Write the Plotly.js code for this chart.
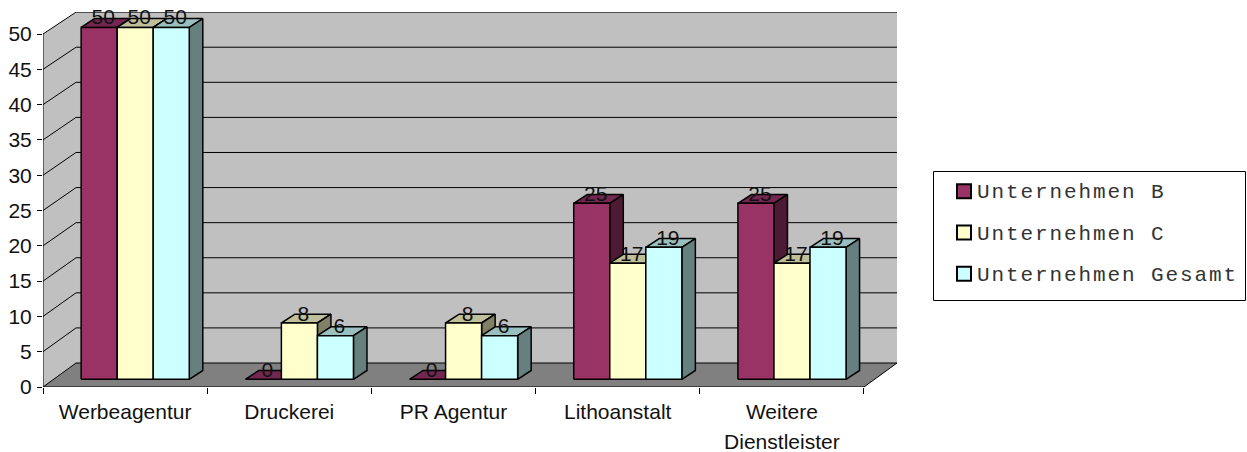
<!DOCTYPE html>
<html><head><meta charset="utf-8">
<script src="https://cdn.plot.ly/plotly-3.0.1.min.js"></script>
<style>
html,body{margin:0;padding:0;background:#fff}
.legendtext{letter-spacing:1.9px;transform:translate(-7px,-1px)}
</style></head><body><div id="chart" style="width:1247px;height:452px"></div>
<script>
const categories=['Werbeagentur','Druckerei','PR Agentur','Lithoanstalt','Weitere<br>Dienstleister'];
const seriesNames=['Unternehmen B','Unternehmen C','Unternehmen Gesamt'];
const unternehmenB=[50,0,0,25,25];
const unternehmenC=[50,8,8,16.5,16.5];
const unternehmenGesamt=[50,6.2,6.2,18.75,18.75];
const yTicks=[0,5,10,15,20,25,30,35,40,45,50];
const catPos=[0,1,2,3,4];
const catEdges=[-0.5,0.5,1.5,2.5,3.5,4.5];
const frontColors=['#993366','#FFFFCC','#CCFFFF'];
const topColors=['#732650','#BFBF99','#99BFBF'];
const sideColors=['#4D1933','#808066','#668080'];
const allSeries=[unternehmenB,unternehmenC,unternehmenGesamt];

const wallDx=33/164, backY=v=>v*0.994+3.4;
const barW=36/164, depthX=13.5/164, depthY=1.25, baseX=10.1/164, baseY=1.09;
const x0=-0.5,x1=4.5;
const traces=[];
function poly(xs,ys,fill,lineColor,lw){
  traces.push({type:'scatter',mode:lineColor?'lines':'none',x:xs.concat(xs[0]),y:ys.concat(ys[0]),
    fill:'toself',fillcolor:fill,line:{color:lineColor||fill,width:lw||0},showlegend:false,hoverinfo:'skip',cliponaxis:false});
}
function seg(xs,ys,w){
  traces.push({type:'scatter',mode:'lines',x:xs,y:ys,line:{color:'#000',width:w||1},showlegend:false,hoverinfo:'skip',cliponaxis:false});
}
poly([x0+wallDx,x1+wallDx,x1+wallDx,x0+wallDx],[backY(0),backY(0),backY(50),backY(50)],'#C0C0C0');
poly([x0,x0+wallDx,x0+wallDx,x0],[0,backY(0),backY(50),50],'#C0C0C0');
poly([x0,x1,x1+wallDx,x0+wallDx],[0,0,backY(0),backY(0)],'#808080');
yTicks.forEach(v=>{
  seg([x0,x0+wallDx,x1+wallDx],[v,backY(v),backY(v)]);
});
seg([x1,x1+wallDx],[0,backY(0)]);
seg([x0,x0],[0,50]);
seg([x0,x1],[0,0]);
catPos.forEach((c,i)=>{
  allSeries.forEach((s,j)=>{
    const l=c+baseX+(j-1.5)*barW, r=l+barW, b=baseY, t=baseY+s[i]*0.997;
    poly([l,r,r+depthX,l+depthX],[t,t,t+depthY,t+depthY],topColors[j],'#000',1.5);
    poly([r,r+depthX,r+depthX,r],[b,b+depthY,t+depthY,t],sideColors[j],'#000',1.5);
    if(s[i]>0) poly([l,r,r,l],[b,b,t,t],frontColors[j],'#000',1.5);
  });
});
allSeries.forEach((s,j)=>{
  traces.push({type:'scatter',mode:'text',x:catPos.map(c=>c+baseX+(j-1)*barW+4/164),
    y:s.map(v=>baseY+v+1.05),text:s.map(v=>String(Math.round(v))),
    textposition:'middle center',textfont:{family:'Liberation Sans',size:21,color:'#111'},
    showlegend:false,hoverinfo:'skip',cliponaxis:false});
});
seriesNames.forEach((n,j)=>{
  traces.push({type:'scatter',mode:'markers',x:[null],y:[null],name:n,legendgroup:n,
    marker:{symbol:'square',size:14,color:frontColors[j],line:{color:'#000',width:2}},hoverinfo:'skip'});
});
const layout={
  width:1247,height:452,paper_bgcolor:'#fff',plot_bgcolor:'rgba(0,0,0,0)',
  margin:{l:43,r:350,t:12,b:65,pad:0,autoexpand:false},
  font:{family:'Liberation Sans',size:20,color:'#111'},
  hovermode:false,
  xaxis:{type:'linear',range:[x0,x1+wallDx],tickmode:'array',tickvals:catPos,ticktext:categories,ticks:'',
    showgrid:false,zeroline:false,showline:false,tickfont:{size:21},ticklabelstandoff:10,tickangle:0,
    minor:{tickmode:'array',tickvals:catEdges,ticks:'outside',ticklen:6,tickwidth:1,tickcolor:'#000',showgrid:false}},
  yaxis:{range:[0,53.12],tickmode:'array',tickvals:yTicks,ticks:'outside',ticklen:5,tickwidth:1,tickcolor:'#000',
    showgrid:false,zeroline:false,showline:false,ticklabelstandoff:1,tickfont:{size:21}},
  showlegend:true,
  legend:{x:(944-43)/854,xanchor:'left',y:1-(171-12)/375,yanchor:'top',bgcolor:'rgba(0,0,0,0)',borderwidth:0,
    tracegroupgap:11,itemsizing:'trace',itemclick:false,itemdoubleclick:false,
    font:{family:'Liberation Mono',size:21,color:'#333'}},
  shapes:[{type:'rect',xref:'paper',yref:'paper',x0:(933.5-43)/854,x1:(1245.5-43)/854,y0:1-(300.5-12)/375,y1:1-(171.5-12)/375,
    line:{color:'#000',width:1},fillcolor:'rgba(0,0,0,0)',layer:'below'}]
};
Plotly.newPlot('chart',traces,layout,{displayModeBar:false}).then(gd=>{
  gd.querySelectorAll('.xtick tspan.line').forEach(t=>{ if(parseFloat(t.getAttribute('dy'))>0) t.setAttribute('dy','1.45em'); });
});
</script></body></html>
